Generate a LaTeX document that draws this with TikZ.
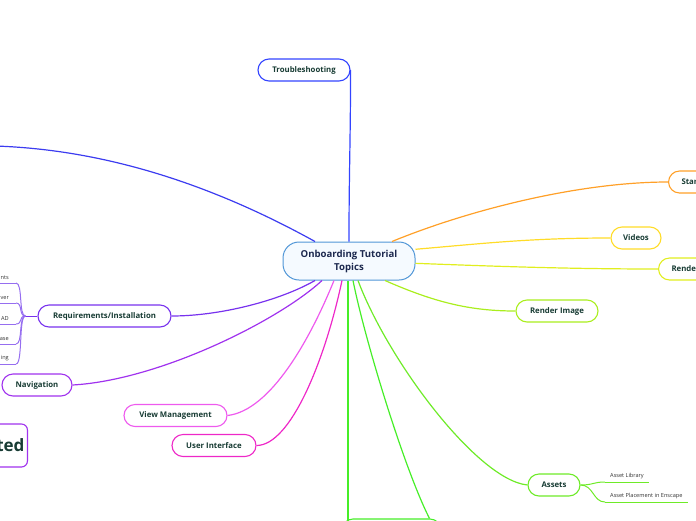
\documentclass[tikz,border=0pt]{standalone}
\usepackage{fontspec}
\setmainfont{Open Sans}
\definecolor{txt}{RGB}{24,60,52}
\definecolor{hubtxt}{RGB}{28,40,78}
\definecolor{hubline}{RGB}{80,150,215}
\definecolor{hubfill}{RGB}{245,250,255}
\definecolor{cBlue}{RGB}{51,68,255}
\definecolor{cBlueL}{RGB}{60,60,240}
\definecolor{cOrange}{RGB}{255,160,40}
\definecolor{cYellow}{RGB}{255,220,40}
\definecolor{cLemon}{RGB}{225,238,30}
\definecolor{cLime}{RGB}{170,238,30}
\definecolor{cGreen}{RGB}{110,235,40}
\definecolor{cGreenB}{RGB}{70,238,40}
\definecolor{cMagenta}{RGB}{238,40,200}
\definecolor{cPink}{RGB}{238,90,238}
\definecolor{cPurple}{RGB}{160,50,238}
\definecolor{cViolet}{RGB}{120,50,238}
\definecolor{cLilac}{RGB}{150,110,240}
\begin{document}
\begin{tikzpicture}[x=1pt,y=-1pt,
    topic/.style={draw=#1,line width=1.1pt,rounded corners=11pt,fill=white,
        minimum height=22pt,inner xsep=10pt,inner ysep=0pt,text=txt,
        font=\fontsize{7.8}{9}\selectfont\bfseries},
    link/.style={draw=#1,line width=1.2pt},
    sub/.style={font=\fontsize{5.6}{6}\selectfont,text=black!80,
        inner xsep=5pt,inner ysep=3pt},
    subline/.style={draw=#1,line width=1pt}]
    \useasboundingbox (0,0) rectangle (696,520);
    \clip (0,0) rectangle (696,520);
    % central topic
    \node[draw=hubline,fill=hubfill,line width=1pt,rounded corners=16pt,
        minimum width=132pt,minimum height=38pt,align=center,text=hubtxt,
        font=\fontsize{9.6}{13}\selectfont\bfseries] (hub) at (349,261)
        {Onboarding Tutorial\\Topics};
    % main topics
    \node[topic=cBlue,minimum width=92pt] (trouble) at (304,70) {Troubleshooting};
    \node[topic=cOrange,anchor=west,text width=40pt,align=left,inner xsep=13pt]
        (start) at (668,182) {Star};
    \node[topic=cYellow,minimum width=50pt] (videos) at (636,238) {Videos};
    \node[topic=cLemon,anchor=west,text width=40pt,align=left,inner xsep=13pt]
        (rende) at (658,269) {Rende};
    \node[topic=cLime,minimum width=82pt] (renderimg) at (557,311) {Render Image};
    \node[topic=cGreen,minimum width=52pt] (assets) at (554,485) {Assets};
    \node[topic=cGreenB,minimum width=99pt] (bottom) at (391.5,530) {};
    \node[topic=cViolet,minimum width=133pt] (reqs) at (104.5,316)
        {Requirements/Installation};
    \node[topic=cPurple,minimum width=70pt] (nav) at (37,385) {Navigation};
    \node[topic=cPink,minimum width=103pt] (view) at (175.5,415.5) {View Management};
    \node[topic=cMagenta,minimum width=84pt] (ui) at (214,445.5) {User Interface};
    \node[draw=cPurple,line width=1.1pt,rounded corners=6pt,fill=white,
        minimum height=43pt,anchor=east,text width=60pt,align=right,inner xsep=3pt,
        text=txt,font=\fontsize{17}{20}\selectfont\bfseries] (ted) at (28,445.5) {ted};
    \coordinate (lt) at (-5,146);
    \coordinate (down) at (348,530);
    % connectors
    \draw[link=cBlue] (hub.north) .. controls +(0,-70) and +(0,70) .. (trouble.east);
    \draw[link=cBlueL] ([xshift=-34pt]hub.north) .. controls +(-85,-47) and +(125,4) .. (lt);
    \draw[link=cOrange] ([xshift=43pt]hub.north) .. controls +(78,-32) and +(-88,0) .. (start.west);
    \draw[link=cYellow] (hub.10) .. controls +(70,-6) and +(-80,0) .. (videos.west);
    \draw[link=cLemon] (hub.-2) .. controls +(80,3) and +(-90,0) .. (rende.west);
    \draw[link=cLime] ([xshift=36pt]hub.south) .. controls +(50,22) and +(-45,0) .. (renderimg.west);
    \draw[link=cGreen] ([xshift=9pt]hub.south) .. controls +(30,80) and +(-50,-5) .. (assets.west);
    \draw[link=cGreenB] ([xshift=4pt]hub.south) .. controls +(12,60) and +(-25,-49) .. ([xshift=38pt]bottom.north);
    \draw[link=cGreenB] ([xshift=-1pt]hub.south) -- (down);
    \draw[link=cMagenta] ([xshift=-7pt]hub.south) .. controls +(-17,80) and +(34,0) .. (ui.east);
    \draw[link=cPink] ([xshift=-15pt]hub.south) .. controls +(-24,59) and +(43,-5) .. (view.east);
    \draw[link=cPurple] ([xshift=-27pt]hub.south) .. controls +(-42,39) and +(88,-5) .. (nav.east);
    \draw[link=cViolet] ([xshift=-34pt]hub.south) .. controls +(-35,20) and +(49,0) .. (reqs.east);
    % sub topics of Requirements/Installation
    \coordinate (rj) at ([xshift=-12pt]reqs.west);
    \draw[subline=cViolet] (reqs.west) -- (rj);
    \foreach \t/\y [count=\i] in {nts/283,ver/303,AD/324,ase/344,ing/364}{
        \node[sub,anchor=south east,text width=50pt,align=right,inner xsep=7pt]
            (req\i) at (16,\y) {\t};
        \draw[subline=cLilac] (req\i.south west) -- (req\i.south east);
        \draw[subline=cLilac] (rj) .. controls +(-7,0) and +(7,0) .. (req\i.south east);
    }
    % sub topics of Assets
    \node[sub,anchor=south west] (lib) at (605,482) {Asset Library};
    \node[sub,anchor=south west] (place) at (605,502) {Asset Placement in Enscape};
    \foreach \s in {lib,place}{
        \draw[subline=cGreen] (\s.south west) -- (\s.south east);
        \draw[subline=cGreen] (assets.east) .. controls +(13,0) and +(-12,0) .. (\s.south west);
    }
\end{tikzpicture}
\end{document}
